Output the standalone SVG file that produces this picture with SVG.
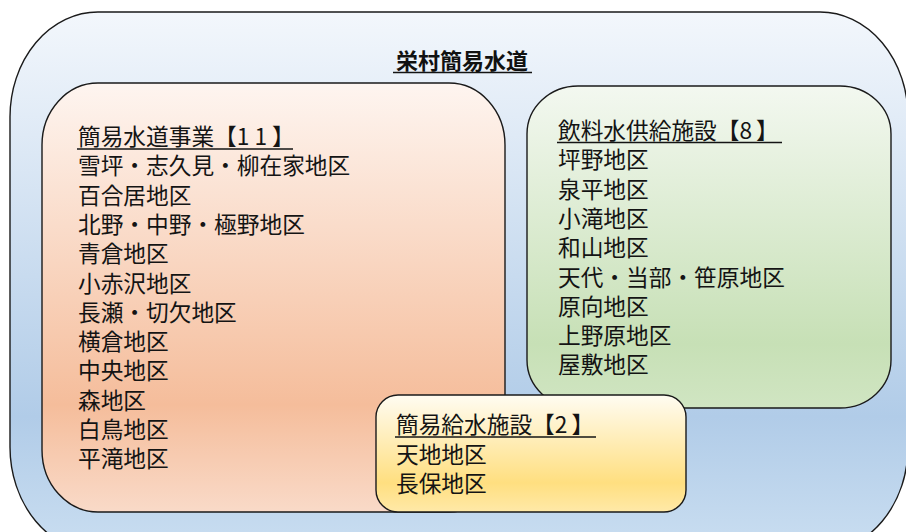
<svg xmlns="http://www.w3.org/2000/svg" width="906" height="532" viewBox="0 0 906 532">
<defs>
<linearGradient id="gBlue" x1="0" y1="0" x2="0" y2="1">
<stop offset="0" stop-color="#f3f7fc"/><stop offset="0.75" stop-color="#b1cce8"/><stop offset="1" stop-color="#cadef1"/>
</linearGradient>
<linearGradient id="gOrange" x1="0" y1="0" x2="0" y2="1">
<stop offset="0" stop-color="#fef5f0"/><stop offset="0.75" stop-color="#f5bd9b"/><stop offset="1" stop-color="#f9dac8"/>
</linearGradient>
<linearGradient id="gGreen" x1="0" y1="0" x2="0" y2="1">
<stop offset="0" stop-color="#f3f8f0"/><stop offset="0.8" stop-color="#c7e0b6"/><stop offset="1" stop-color="#d0e5c2"/>
</linearGradient>
<linearGradient id="gYellow" x1="0" y1="0" x2="0" y2="1">
<stop offset="0" stop-color="#fffcf2"/><stop offset="0.75" stop-color="#ffdf80"/><stop offset="1" stop-color="#ffe9a8"/>
</linearGradient>
</defs>
<style>
.box{stroke:#1a1a1a;stroke-width:1.4}
.t{font-family:"Noto Sans CJK JP","Noto Sans CJK SC",sans-serif;font-size:22.7px;fill:#141414}
.title{font-family:"Noto Sans CJK JP","Noto Sans CJK SC",sans-serif;font-size:22px;font-weight:bold;fill:#111;text-anchor:middle}
.ul{stroke:#141414;stroke-width:1.4}
</style>
<g id="outer">
<rect class="box" x="10" y="12" width="898" height="540" rx="88" ry="105" fill="url(#gBlue)"/>
<text class="title" x="462" y="69">栄村簡易水道</text>
<line class="ul" x1="393" y1="72.5" x2="532" y2="72.5"/>
</g>
<g id="kani-suido">
<rect class="box" x="42" y="83" width="463" height="429" rx="56" ry="62" fill="url(#gOrange)"/>
<text class="t" x="78" y="145">簡易水道事業【<tspan letter-spacing="5">11</tspan>】</text>
<line class="ul" x1="77" y1="149" x2="293" y2="149"/>
<text class="t" x="78" y="174.3">雪坪・志久見・柳在家地区</text>
<text class="t" x="78" y="203.6">百合居地区</text>
<text class="t" x="78" y="232.9">北野・中野・極野地区</text>
<text class="t" x="78" y="262.2">青倉地区</text>
<text class="t" x="78" y="291.5">小赤沢地区</text>
<text class="t" x="78" y="320.8">長瀬・切欠地区</text>
<text class="t" x="78" y="350.1">横倉地区</text>
<text class="t" x="78" y="379.4">中央地区</text>
<text class="t" x="78" y="408.7">森地区</text>
<text class="t" x="78" y="438">白鳥地区</text>
<text class="t" x="78" y="467.3">平滝地区</text>
</g>
<g id="inryosui">
<rect class="box" x="527" y="86" width="364" height="322" rx="51" ry="48" fill="url(#gGreen)"/>
<text class="t" x="558" y="139">飲料水供給施設【<tspan letter-spacing="4">8</tspan>】</text>
<line class="ul" x1="557" y1="142.5" x2="782" y2="142.5"/>
<text class="t" x="558" y="168.3">坪野地区</text>
<text class="t" x="558" y="197.6">泉平地区</text>
<text class="t" x="558" y="226.9">小滝地区</text>
<text class="t" x="558" y="256.2">和山地区</text>
<text class="t" x="558" y="285.5">天代・当部・笹原地区</text>
<text class="t" x="558" y="314.8">原向地区</text>
<text class="t" x="558" y="344.1">上野原地区</text>
<text class="t" x="558" y="373.4">屋敷地区</text>
</g>
<g id="kani-kyusui">
<rect class="box" x="376" y="395" width="310" height="117" rx="22" ry="22" fill="url(#gYellow)"/>
<text class="t" x="396" y="433">簡易給水施設【<tspan letter-spacing="4">2</tspan>】</text>
<line class="ul" x1="395" y1="437" x2="596" y2="437"/>
<text class="t" x="396" y="462.5">天地地区</text>
<text class="t" x="396" y="492">長保地区</text>
</g>
<g id="connectors"></g>
</svg>
